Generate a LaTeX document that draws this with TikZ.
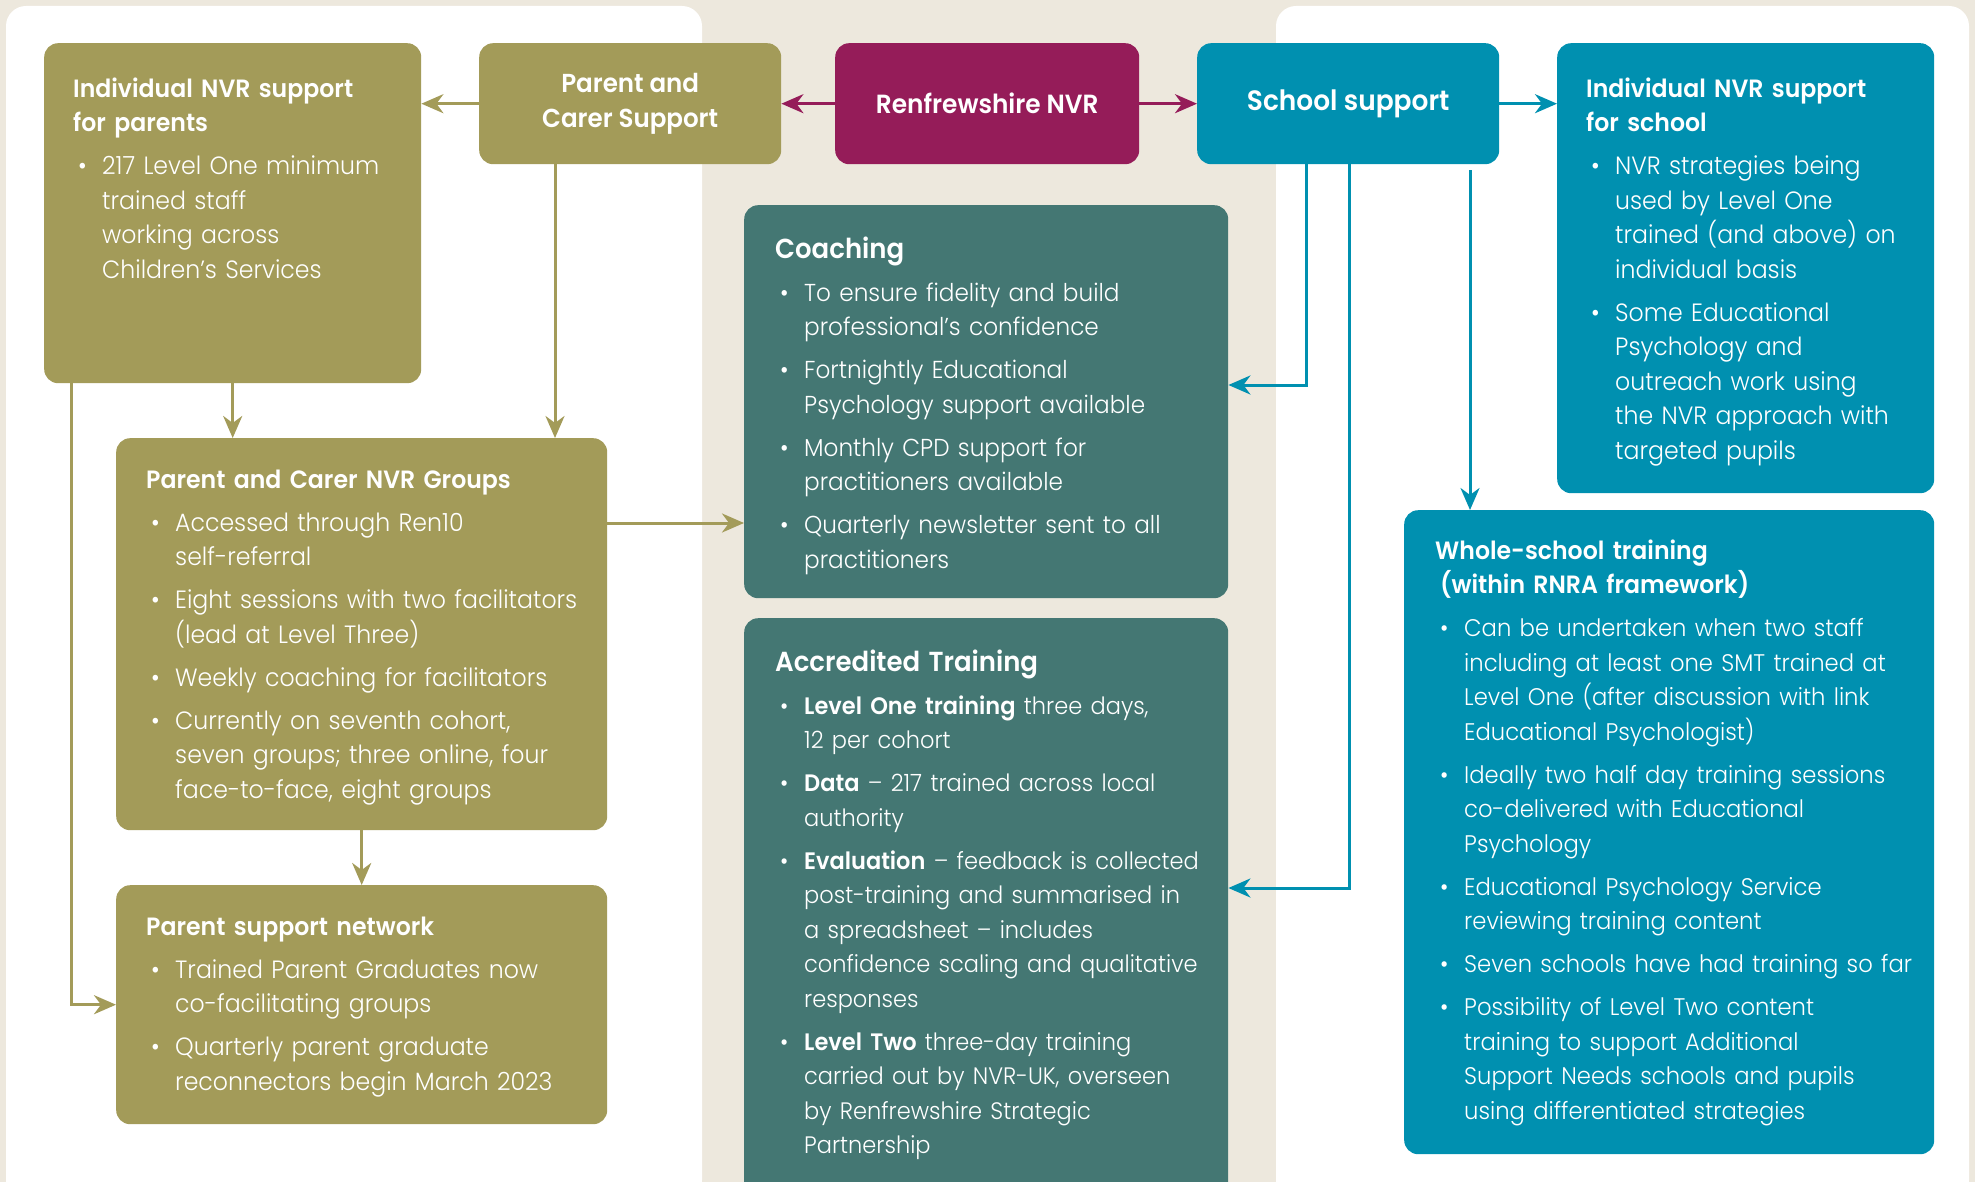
\documentclass[tikz,border=0pt]{standalone}
\usepackage{fontspec}
\setmainfont{Poppins}[UprightFont=* Light, BoldFont=* SemiBold, FakeStretch=0.945]
\usetikzlibrary{arrows.meta,calc}

\definecolor{nvrbeige}{HTML}{EDE8DD}
\definecolor{nvrolive}{HTML}{A39B59}
\definecolor{nvrplum}{HTML}{951C59}
\definecolor{nvrblue}{HTML}{0090B0}
\definecolor{nvrteal}{HTML}{447773}

% text helpers
\newcommand\bodyfont{\fontsize{25}{34.5}\selectfont}
\newcommand\narrowfont[1]{\fontsize{#1}{34.5}\selectfont}
\newcommand\bigfont{\fontsize{27.5}{34.5}\selectfont}
\newcommand\nl{\hfil\break}
\newcommand\itm[1]{\par\vspace{8.5pt}\hangindent=29pt\hangafter=1\noindent
  \makebox[29pt][l]{\hspace{5pt}•}#1\par}

\tikzset{
  box/.style={rectangle, rounded corners=14pt, inner sep=0pt, draw=none,
    anchor=north west, text=white},
  txt/.style={anchor=north west, inner sep=0pt, text=white, align=left,
    font=\bodyfont},
  arr/.style={line width=3pt, -{Stealth[length=22pt,width=19pt,inset=7pt]}},
}

\begin{document}
\begin{tikzpicture}[x=1pt,y=-1pt]
\useasboundingbox (0,0) rectangle (1975,1182);
\clip (0,0) rectangle (1975,1182);
\fill[nvrbeige] (0,0) rectangle (1975,1182);

% white side panels
\fill[white, rounded corners=20pt] (6,6) rectangle (702,1200);
\fill[white, rounded corners=20pt] (1276,6) rectangle (1969,1200);

% boxes
\node[box, fill=nvrolive, minimum width=377pt, minimum height=340pt] (A) at (44,43) {};
\node[box, fill=nvrolive, minimum width=302pt, minimum height=121pt, align=center,
  font=\fontsize{26}{35}\selectfont\bfseries] (B) at (479,43) {Parent and\\Carer Support};
\node[box, fill=nvrplum, minimum width=304pt, minimum height=121pt,
  font=\fontsize{26.3}{35}\selectfont\bfseries] (C) at (835,43) {Renfrewshire NVR};
\node[box, fill=nvrblue, minimum width=302pt, minimum height=121pt,
  font=\fontsize{28}{35}\selectfont\bfseries] (D) at (1197,43) {School support};
\node[box, fill=nvrblue, minimum width=377pt, minimum height=450pt] (E) at (1557,43) {};
\node[box, fill=nvrteal, minimum width=484pt, minimum height=393pt] (F) at (744,205) {};
\node[box, fill=nvrteal, minimum width=484pt, minimum height=590pt] (H) at (744,618) {};
\node[box, fill=nvrolive, minimum width=491pt, minimum height=392pt] (G) at (116,438) {};
\node[box, fill=nvrolive, minimum width=491pt, minimum height=239pt] (I) at (116,885) {};
\node[box, fill=nvrblue, minimum width=530pt, minimum height=644pt] (J) at (1404,510) {};

% box texts
\node[txt, text width=360pt] (At) at (73,73) {\bodyfont\parindent=0pt
  \strut\textbf{Individual NVR support\nl for parents}\par
  \itm{217 Level One minimum\nl trained staff\nl working across\nl Children’s Services}};

\node[txt, text width=360pt] (Et) at (1586,73) {\bodyfont\parindent=0pt
  \strut\textbf{Individual NVR support\nl for school}\par
  \itm{NVR strategies being\nl used by Level One\nl trained (and above) on\nl individual basis}
  \itm{Some Educational\nl Psychology and\nl outreach work using\nl the NVR approach with\nl targeted pupils}};

\node[txt, text width=470pt] (Ft) at (775,234) {\bigfont\parindent=0pt
  \strut\textbf{Coaching}\par\narrowfont{24.5}
  \itm{To ensure fidelity and build\nl professional’s confidence}
  \itm{Fortnightly Educational\nl Psychology support available}
  \itm{Monthly CPD support for\nl practitioners available}
  \itm{Quarterly newsletter sent to all\nl practitioners}};

\node[txt, text width=470pt] (Ht) at (775,647) {\bigfont\parindent=0pt
  \strut\textbf{Accredited Training}\par\narrowfont{23.8}
  \itm{\textbf{Level One training} three days,\nl 12 per cohort}
  \itm{\textbf{Data} – 217 trained across local\nl authority}
  \itm{\textbf{Evaluation} – feedback is collected\nl post-training and summarised in\nl a spreadsheet – includes\nl confidence scaling and qualitative\nl responses}
  \itm{\textbf{Level Two} three-day training\nl carried out by NVR-UK, overseen\nl by Renfrewshire Strategic\nl Partnership}};

\node[txt, text width=470pt] (Gt) at (146,464) {\bodyfont\parindent=0pt
  \strut\textbf{Parent and Carer NVR Groups}\par
  \itm{Accessed through Ren10\nl self-referral}
  \itm{Eight sessions with two facilitators\nl (lead at Level Three)}
  \itm{Weekly coaching for facilitators}
  \itm{Currently on seventh cohort,\nl seven groups; three online, four\nl face-to-face, eight groups}};

\node[txt, text width=470pt] (It) at (146,911) {\bodyfont\parindent=0pt
  \strut\textbf{Parent support network}\par
  \itm{Trained Parent Graduates now\nl co-facilitating groups}
  \itm{Quarterly parent graduate\nl reconnectors begin March 2023}};

\node[txt, text width=510pt] (Jt) at (1435,535) {\bodyfont\parindent=0pt
  \strut\textbf{Whole-school training\nl\hspace*{5pt}(within RNRA framework)}\par\narrowfont{24}
  \itm{Can be undertaken when two staff\nl including at least one SMT trained at\nl Level One (after discussion with link\nl Educational Psychologist)}
  \itm{Ideally two half day training sessions\nl co-delivered with Educational\nl Psychology}
  \itm{Educational Psychology Service\nl reviewing training content}
  \itm{Seven schools have had training so far}
  \itm{Possibility of Level Two content\nl training to support Additional\nl Support Needs schools and pupils\nl using differentiated strategies}};

% connectors along the top row
\draw[arr, nvrolive] (B.west) -- (B.west -| A.east);
\draw[arr, nvrplum] (C.west) -- (C.west -| B.east);
\draw[arr, nvrplum] (C.east) -- (C.east -| D.west);
\draw[arr, nvrblue] (D.east) -- (D.east -| E.west);

% parent side
\coordinate (bdrop) at ($(B.south west)+(76,0)$);
\coordinate (aleft) at ($(A.south west)+(27,0)$);
\coordinate (gout) at ($(G.north east)+(0,85)$);
\draw[arr, nvrolive] (A.south) -- (A.south |- G.north);
\draw[arr, nvrolive] (bdrop) -- (bdrop |- G.north);
\draw[arr, nvrolive] (aleft) |- (I.west);
\draw[arr, nvrolive] (G.south) -- (I.north);
\draw[arr, nvrolive] (gout) -- (gout -| F.west);

% school side
\coordinate (d1) at ($(D.south west)+(109,0)$);
\coordinate (f1) at ($(F.north east)+(0,180)$);
\coordinate (d2) at ($(D.south west)+(152,0)$);
\coordinate (h1) at ($(H.north east)+(0,270)$);
\coordinate (d3) at ($(D.south west)+(273,6)$);
\draw[arr, nvrblue] (d1) |- (f1);
\draw[arr, nvrblue] (d2) |- (h1);
\draw[arr, nvrblue] (d3) -- (d3 |- J.north);
\end{tikzpicture}
\end{document}
